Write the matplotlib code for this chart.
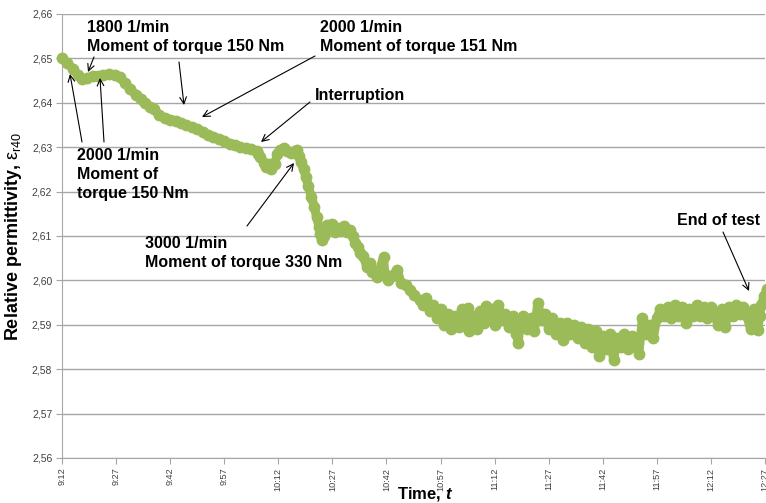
import matplotlib
matplotlib.use("Agg")
import matplotlib.pyplot as plt

plt.rcParams['font.family'] = ['Liberation Sans', 'DejaVu Sans']
plt.rcParams['mathtext.fontset'] = 'custom'
plt.rcParams['mathtext.rm'] = 'Liberation Sans'
plt.rcParams['mathtext.it'] = 'Liberation Sans:italic:bold'
plt.rcParams['mathtext.bf'] = 'Liberation Sans:bold'

# ---- data: minutes after 9:12 and relative permittivity ----
minutes = [0, 1.5, 3, 4.5, 5.6, 7, 8.5, 10, 11.5, 13, 14.7, 16, 17.5, 19, 20.5, 22, 23, 24.4,
           25.5, 27, 28.5, 30, 31.5, 33, 34.5, 36, 37.5, 39, 40.5, 42, 43.5, 45, 46.5, 48,
           49.5, 51, 52.5, 54, 54.5, 55, 56, 56.5, 57.5, 58, 59, 59.7, 60.5, 61.5, 62.5,
           63.5, 64.5, 65.2, 65.7, 66.3, 67, 67.7, 68.3, 69.2, 70, 70.6, 71.3, 71.7, 72,
           72.6, 73.4, 74, 75, 75.6, 76.5, 77.3, 78.3, 79, 80, 80.6, 81.3, 82, 82.7, 83.5,
           84.6, 85.5, 86, 87.5, 89.2, 89.5, 90.3, 91.5, 93, 94, 95.5, 96.5, 97.5, 99.2,
           100, 101, 102, 103, 104, 105, 106, 107, 108, 109, 110, 111, 112, 112.5, 113, 114,
           115, 116, 117, 117.5, 118, 119, 120, 121, 122, 123, 124, 125, 126, 126.6, 127,
           128, 129, 130, 131, 132, 133, 134, 135, 136, 137, 138, 139, 140, 141, 142, 143,
           144, 145, 146, 147, 148, 149, 150, 151, 152, 153, 154, 155, 156, 157, 158, 159,
           160, 161, 162, 163, 164, 165, 166, 167, 168, 169, 170, 171, 172, 173, 174, 175,
           176, 177, 178, 179, 180, 181, 182, 183, 184, 185, 186, 187, 188, 189, 190, 191,
           192, 193, 193.5, 194, 194.8, 195.5]
permittivity = [2.6500, 2.6490, 2.6476, 2.6462, 2.6453, 2.6456, 2.6460, 2.6461, 2.6463,
                2.6464, 2.6463, 2.6457, 2.6445, 2.6430, 2.6418, 2.6408, 2.6400, 2.6391,
                2.6385, 2.6372, 2.6365, 2.6362, 2.6360, 2.6355, 2.6349, 2.6345, 2.6342,
                2.6335, 2.6328, 2.6324, 2.6318, 2.6313, 2.6308, 2.6305, 2.6300, 2.6298,
                2.6296, 2.6292, 2.6285, 2.6278, 2.6265, 2.6256, 2.6262, 2.6250, 2.6262,
                2.6285, 2.6294, 2.6298, 2.6292, 2.6288, 2.6292, 2.6294, 2.6280, 2.6267,
                2.6250, 2.6233, 2.6212, 2.6188, 2.6165, 2.6143, 2.6120, 2.6105, 2.6090,
                2.6100, 2.6125, 2.6115, 2.6128, 2.6110, 2.6118, 2.6112, 2.6122, 2.6110,
                2.6113, 2.6100, 2.6084, 2.6075, 2.6062, 2.6055, 2.6030, 2.6040, 2.6020,
                2.6008, 2.6053, 2.6015, 2.6001, 2.6010, 2.6024, 2.5995, 2.5990, 2.5978,
                2.5968, 2.5956, 2.5945, 2.5960, 2.5930, 2.5945, 2.5915, 2.5935, 2.5900,
                2.5925, 2.5890, 2.5920, 2.5895, 2.5935, 2.5910, 2.5938, 2.5885, 2.5920,
                2.5890, 2.5930, 2.5905, 2.5942, 2.5915, 2.5935, 2.5900, 2.5945, 2.5910,
                2.5925, 2.5895, 2.5920, 2.5880, 2.5860, 2.5905, 2.5920, 2.5890, 2.5915,
                2.5885, 2.5950, 2.5910, 2.5925, 2.5890, 2.5915, 2.5880, 2.5905, 2.5865,
                2.5905, 2.5880, 2.5900, 2.5870, 2.5895, 2.5860, 2.5890, 2.5850, 2.5885,
                2.5830, 2.5875, 2.5845, 2.5880, 2.5820, 2.5870, 2.5850, 2.5880, 2.5845,
                2.5875, 2.5855, 2.5835, 2.5915, 2.5880, 2.5900, 2.5870, 2.5915, 2.5935,
                2.5920, 2.5940, 2.5915, 2.5945, 2.5920, 2.5940, 2.5905, 2.5935, 2.5920,
                2.5945, 2.5920, 2.5940, 2.5915, 2.5940, 2.5920, 2.5900, 2.5935, 2.5895,
                2.5940, 2.5920, 2.5945, 2.5925, 2.5940, 2.5920, 2.5890, 2.5935, 2.5888,
                2.5920, 2.5945, 2.5965, 2.5980]

tick_minutes = [0, 15, 30, 45, 60, 75, 90, 105, 120, 135, 150, 165, 180, 195]
tick_labels = ['9:12', '9:27', '9:42', '9:57', '10:12', '10:27', '10:42', '10:57',
               '11:12', '11:27', '11:42', '11:57', '12:12', '12:27']
y_ticks = [2.56, 2.57, 2.58, 2.59, 2.60, 2.61, 2.62, 2.63, 2.64, 2.65, 2.66]

W, H = 766, 503
fig = plt.figure(figsize=(W / 100, H / 100), dpi=100)
ax = fig.add_axes([62 / W, 1 - 458 / H, (765 - 62) / W, (458 - 14) / H])

green = '#9BBB59'
ax.plot(minutes, permittivity, color=green, lw=6.5, marker='o', ms=7.5,
        mec=green, mfc=green, solid_joinstyle='round', solid_capstyle='round',
        clip_on=False, zorder=3)

ax.set_xlim(0, 195)
ax.set_ylim(2.56, 2.66)
ax.set_yticks(y_ticks)
ax.set_yticklabels([f'{v:.2f}'.replace('.', ',') for v in y_ticks],
                   fontsize=7.5, color='#404040')
ax.set_xticks(tick_minutes)
ax.set_xticklabels(tick_labels, rotation=90, fontsize=6.6, color='#404040')
ax.grid(axis='y', color='#A6A6A6', lw=1)
ax.set_axisbelow(True)
for s in ['top', 'right']:
    ax.spines[s].set_visible(False)
for s in ['left', 'bottom']:
    ax.spines[s].set_color('#A6A6A6')
ax.tick_params(axis='both', length=4, color='#A6A6A6', pad=3)

ax.set_ylabel(r'Relative permittivity, $\mathrm{ε}_{\mathrm{r40}}$', fontsize=13,
              fontweight='bold', labelpad=6)
fig.text(425 / W, 1 - 494 / H, r'Time, $t$', fontsize=12, fontweight='bold',
         ha='center', va='center')


def fp(x, y):
    return (x / W, 1 - y / H)


tkw = dict(fontsize=11.5, fontweight='bold', ha='left', va='top', linespacing=1.32)
akw = dict(arrowstyle='->', color='black', lw=0.8, shrinkA=0, shrinkB=0,
           mutation_scale=12)

fig.text(*fp(87, 20), '1800 1/min\nMoment of torque 150 Nm', **tkw)
ax.annotate('', xy=fp(88, 72), xytext=fp(94, 57), xycoords='figure fraction',
            textcoords='figure fraction', arrowprops=akw)
ax.annotate('', xy=fp(184, 105), xytext=fp(179, 62), xycoords='figure fraction',
            textcoords='figure fraction', arrowprops=akw)

fig.text(*fp(320, 20), '2000 1/min\nMoment of torque 151 Nm', **tkw)
ax.annotate('', xy=fp(202, 117), xytext=fp(315, 56), xycoords='figure fraction',
            textcoords='figure fraction', arrowprops=akw)

fig.text(*fp(315, 88), 'Interruption', **tkw)
ax.annotate('', xy=fp(261, 142), xytext=fp(310, 102), xycoords='figure fraction',
            textcoords='figure fraction', arrowprops=akw)

fig.text(*fp(77, 148), '2000 1/min\nMoment of\ntorque 150 Nm', **tkw)
ax.annotate('', xy=fp(70, 74), xytext=fp(82, 142), xycoords='figure fraction',
            textcoords='figure fraction', arrowprops=akw)
ax.annotate('', xy=fp(100, 78), xytext=fp(104, 142), xycoords='figure fraction',
            textcoords='figure fraction', arrowprops=akw)

fig.text(*fp(145, 236), '3000 1/min\nMoment of torque 330 Nm', **tkw)
ax.annotate('', xy=fp(294, 163), xytext=fp(247, 226), xycoords='figure fraction',
            textcoords='figure fraction', arrowprops=akw)

fig.text(*fp(677, 213), 'End of test', **tkw)
ax.annotate('', xy=fp(749, 291), xytext=fp(723, 232), xycoords='figure fraction',
            textcoords='figure fraction', arrowprops=akw)

fig.savefig('out.png', dpi=100)
